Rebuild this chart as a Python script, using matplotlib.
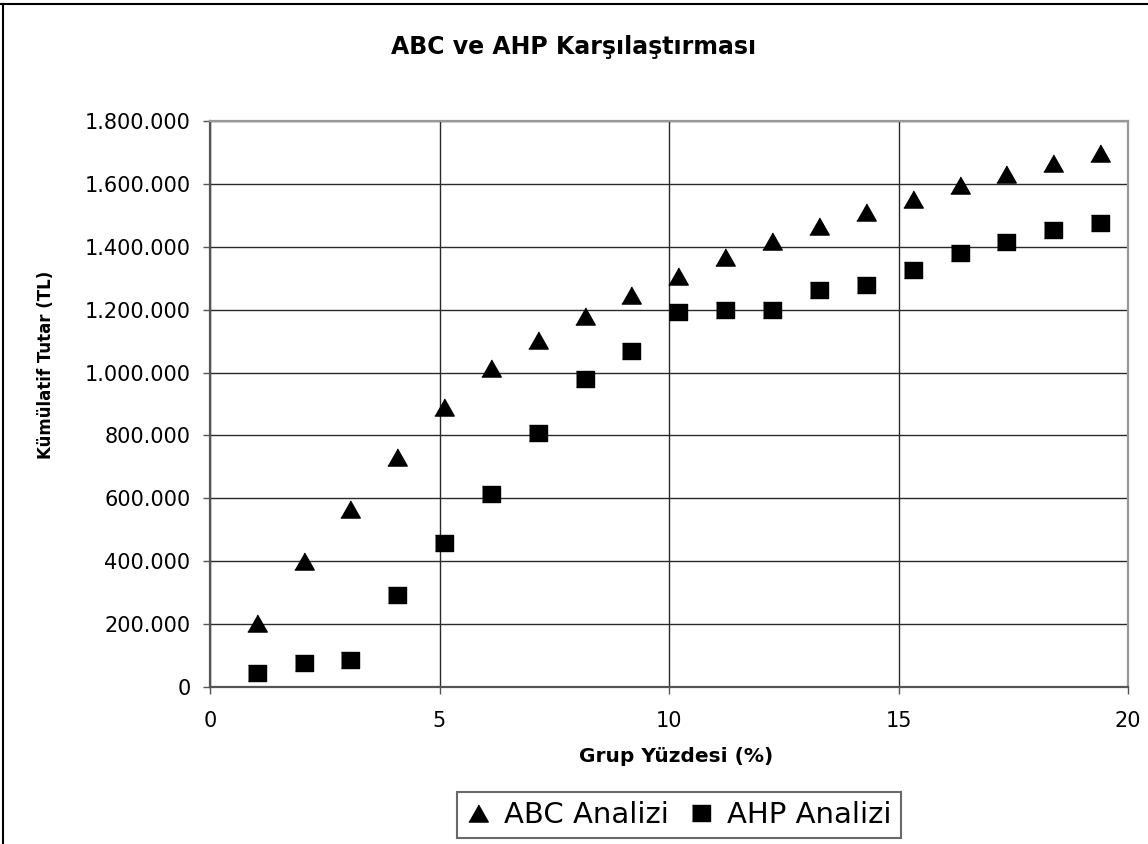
import matplotlib
matplotlib.use("Agg")
import matplotlib.pyplot as plt
from matplotlib.ticker import FuncFormatter, FixedLocator
from matplotlib.lines import Line2D

# ---- data ----
group_pct = [1.02, 2.04, 3.06, 4.08, 5.10, 6.12, 7.14, 8.16, 9.18, 10.20,
             11.22, 12.24, 13.27, 14.29, 15.31, 16.33, 17.35, 18.37, 19.39]
abc_values = [205000, 400000, 565000, 731000, 890000, 1015000, 1105000, 1180000,
              1246000, 1307000, 1366000, 1417000, 1466000, 1512000, 1552000,
              1596000, 1632000, 1667000, 1697000]
ahp_values = [43000, 77000, 86000, 293000, 457000, 613000, 809000, 978000,
              1070000, 1194000, 1198000, 1198000, 1263000, 1280000, 1325000,
              1380000, 1414000, 1454000, 1475000]
series_labels = ["ABC Analizi", "AHP Analizi"]
title_text = "ABC ve AHP Karşılaştırması"
xlabel_text = "Grup Yüzdesi (%)"
ylabel_text = "Kümülatif Tutar (TL)"
x_ticks = [0, 5, 10, 15, 20]
y_ticks = [0, 200000, 400000, 600000, 800000, 1000000, 1200000, 1400000, 1600000, 1800000]

plt.rcParams['font.family'] = ['DejaVu Sans']

W, H = 1148, 844
fig = plt.figure(figsize=(W / 100, H / 100), dpi=100)
fig.patch.set_facecolor("white")

L, R, T, B = 210, 1128, 121, 687
ax = fig.add_axes([L / W, 1 - B / H, (R - L) / W, (B - T) / H])

tri = [(-1, -0.88), (1, -0.88), (0, 0.88)]
sq = [(-1, -0.88), (1, -0.88), (1, 0.88), (-1, 0.88)]

ax.plot(group_pct, abc_values, linestyle="none", marker=tri, markersize=14,
        color="black", label=series_labels[0], zorder=3)
ax.plot(group_pct, ahp_values, linestyle="none", marker=sq, markersize=12.7,
        color="black", label=series_labels[1], zorder=3)

ax.set_xlim(0, 20)
ax.set_ylim(0, 1800000)
ax.xaxis.set_major_locator(FixedLocator(x_ticks))
ax.yaxis.set_major_locator(FixedLocator(y_ticks))
ax.yaxis.set_major_formatter(FuncFormatter(lambda v, p: f"{int(round(v)):,}".replace(",", ".")))

ax.grid(True, color="#2a2a2a", linewidth=1.0)
ax.set_axisbelow(True)

for side in ["left", "bottom"]:
    ax.spines[side].set_color("#555555")
    ax.spines[side].set_linewidth(1.6)
for side in ["top", "right"]:
    ax.spines[side].set_color("#999999")
    ax.spines[side].set_linewidth(1.6)

ax.tick_params(axis="y", direction="out", length=5, width=1, color="#555555",
               labelsize=15, pad=9)
ax.tick_params(axis="x", direction="out", length=5, width=1, color="#555555",
               labelsize=15, pad=12)

fig.text(574 / W, 1 - 47 / H, title_text, ha="center", va="center",
         fontsize=17, fontweight="bold")
fig.text(676 / W, 1 - 757 / H, xlabel_text, ha="center", va="center",
         fontsize=14.5, fontweight="bold")
fig.text(46 / W, 1 - 365 / H, ylabel_text, ha="center", va="center",
         rotation=90, fontsize=12, fontweight="bold")

leg = fig.legend(loc="center", bbox_to_anchor=(679 / W, 1 - 815 / H), ncol=2,
                 fontsize=21, frameon=True, fancybox=False, handlelength=0.8,
                 handletextpad=0.5, columnspacing=0.7, borderpad=0.3,
                 borderaxespad=0, markerscale=1.0)
leg.get_frame().set_edgecolor("#444444")
leg.get_frame().set_linewidth(1.5)

# outer chart border (top and left visible)
fig.add_artist(Line2D([0, 1], [1 - 3.5 / H, 1 - 3.5 / H], color="black", linewidth=1.5))
fig.add_artist(Line2D([3 / W, 3 / W], [0, 1 - 3.5 / H], color="black", linewidth=1.5))

fig.savefig("out.png", dpi=100, facecolor="white")
